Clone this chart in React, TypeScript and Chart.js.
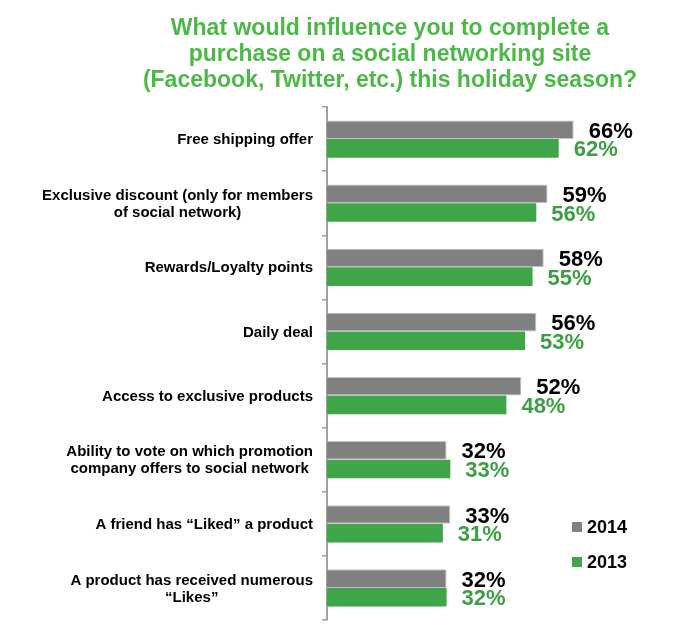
import React, { useEffect, useRef } from "react";
import { Chart, registerables } from "chart.js";

Chart.register(...registerables);

const titleLines = [
  "What would influence you to complete a",
  "purchase on a social networking site",
  "(Facebook, Twitter, etc.) this holiday season?",
];

const categories = [
  "Free shipping offer",
  "Exclusive discount",
  "Rewards/Loyalty points",
  "Daily deal",
  "Access to exclusive products",
  "Ability to vote",
  "A friend has Liked",
  "A product has received",
];

const categoryLabelLines = [
  ["Free shipping offer"],
  ["Exclusive discount (only for members", "of social network)"],
  ["Rewards/Loyalty points"],
  ["Daily deal"],
  ["Access to exclusive products"],
  ["Ability to vote on which promotion", "company offers to social network"],
  ["A friend has \u201CLiked\u201D a product"],
  ["A product has received numerous", "\u201CLikes\u201D"],
];

const seriesNames = ["2014", "2013"];
const values2014 = [66, 59, 58, 56, 52, 32, 33, 32];
const values2013 = [62, 56, 55, 53, 48, 33, 31, 32];

const GRAY = "#808080";
const GREEN = "#3ea648";
const TITLE_GREEN = "#4cb848";
const LABEL_GREEN = "#3d9e45";
const FONT = '"Liberation Sans", Arial, Helvetica, sans-serif';

const customDraw = {
  id: "customDraw",
  afterDraw(chart: any) {
    const ctx = chart.ctx;
    ctx.save();
    // Title
    ctx.fillStyle = TITLE_GREEN;
    ctx.font = `bold 23px ${FONT}`;
    ctx.textAlign = "center";
    ctx.textBaseline = "middle";
    const titleY = [29, 55, 81];
    titleLines.forEach((t, i) => ctx.fillText(t, 390, titleY[i]));

    // Category labels
    const yScale = chart.scales.y;
    ctx.fillStyle = "#000";
    ctx.font = `bold 15px ${FONT}`;
    ctx.textBaseline = "middle";
    ctx.textAlign = "center";
    const rightEdge = 313;
    const lh = 17;
    categoryLabelLines.forEach((lines, i) => {
      const cy = yScale.getPixelForValue(i);
      const widest = Math.max(...lines.map((l) => ctx.measureText(l).width));
      const cx = rightEdge - widest / 2;
      const startY = cy - ((lines.length - 1) * lh) / 2 + 1;
      lines.forEach((l, j) => ctx.fillText(l, cx, startY + j * lh));
    });

    // Value labels
    ctx.font = `bold 22px ${FONT}`;
    ctx.textAlign = "left";
    const colors = ["#000", LABEL_GREEN];
    chart.data.datasets.forEach((ds: any, di: number) => {
      const meta = chart.getDatasetMeta(di);
      meta.data.forEach((bar: any, i: number) => {
        ctx.fillStyle = colors[di];
        ctx.fillText(`${ds.data[i]}%`, bar.x + 15, bar.y + 2);
      });
    });

    // Legend
    const legendItems = [
      { name: seriesNames[0], color: GRAY, y: 527 },
      { name: seriesNames[1], color: GREEN, y: 562 },
    ];
    ctx.font = `bold 18px ${FONT}`;
    legendItems.forEach((it) => {
      ctx.fillStyle = it.color;
      ctx.fillRect(572, it.y - 5, 10, 10);
      ctx.fillStyle = "#000";
      ctx.fillText(it.name, 587, it.y + 1);
    });
    ctx.restore();
  },
};

export default function App() {
  const canvasRef = useRef<HTMLCanvasElement | null>(null);

  useEffect(() => {
    if (!canvasRef.current) return;
    const chart = new Chart(canvasRef.current, {
      type: "bar",
      data: {
        labels: categories,
        datasets: [
          {
            label: seriesNames[0],
            data: values2014,
            backgroundColor: GRAY,
            borderColor: "#c4c4c4",
            borderWidth: 1,
          },
          {
            label: seriesNames[1],
            data: values2013,
            backgroundColor: GREEN,
            borderColor: GREEN,
            borderWidth: 0,
          },
        ],
      },
      options: {
        indexAxis: "y",
        responsive: false,
        animation: false,
        devicePixelRatio: 1,
        layout: { padding: { top: 107, bottom: 4, left: 0, right: 47 } },
        plugins: {
          legend: { display: false },
          title: { display: false },
          tooltip: { enabled: false },
        },
        datasets: {
          bar: { categoryPercentage: 0.58, barPercentage: 1.0 },
        },
        scales: {
          x: { display: false, min: 0, max: 80 },
          y: {
            type: "category",
            offset: true,
            ticks: { display: false },
            grid: {
              display: true,
              drawOnChartArea: false,
              drawTicks: true,
              tickLength: 5,
              color: "#a0a0a0",
              lineWidth: 1.5,
            },
            border: { display: true, color: "#a0a0a0", width: 2 },
            afterFit: (scale: any) => {
              scale.width = 327;
            },
          },
        },
      },
      plugins: [customDraw],
    });
    return () => chart.destroy();
  }, []);

  return (
    <div style={{ position: "absolute", left: 0, top: 0, width: 673, height: 624 }}>
      <canvas ref={canvasRef} width={673} height={624} style={{ display: "block" }} />
    </div>
  );
}
